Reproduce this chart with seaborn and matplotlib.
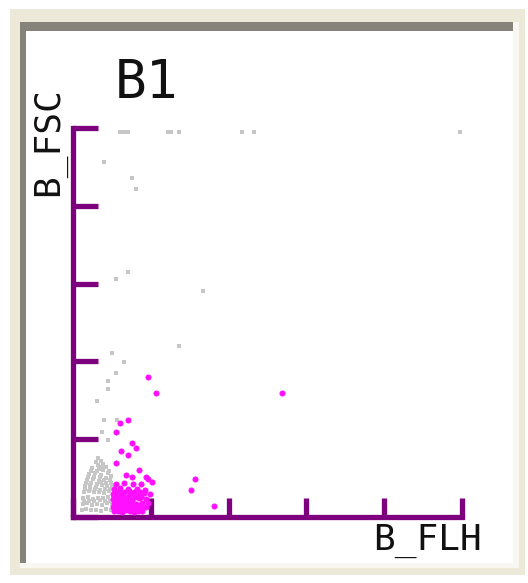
import matplotlib
matplotlib.use("Agg")
import matplotlib.pyplot as plt
from matplotlib.patches import Rectangle
import seaborn as sns
import pandas as pd

# B_FLH / B_FSC values (0-1000 channel scale)
gray_x = [121, 131, 142, 244, 252, 273, 434, 465, 995,
          80, 152, 162, 141, 111, 334, 273, 100, 131, 111, 90, 90, 62,
          80, 113, 75, 90, 64, 75,
          59, 72, 49, 67, 85, 41, 57, 72, 90, 36, 51, 67, 80, 95,
          31, 44, 59, 75, 87, 100, 28, 41, 54, 67, 80, 93, 105,
          26, 39, 51, 64, 77, 90, 103, 26, 36, 49, 62, 75, 87, 100,
          23, 33, 46, 59, 72, 85, 98, 108,
          65, 78, 46, 62, 77, 92, 38, 53, 70, 85, 98, 34, 47, 61, 73, 86, 97,
          31, 44, 57, 70, 83, 96, 108, 29, 42, 55, 69, 82, 95, 106]
gray_y = [990, 990, 990, 990, 990, 990, 990, 990, 990,
          913, 872, 843, 630, 612, 581, 440, 422, 398, 370, 350, 329, 298,
          249, 249, 219, 198, 152, 129,
          141, 143, 126, 124, 128, 111, 113, 109, 112, 95, 97, 93, 96, 94,
          80, 82, 78, 81, 79, 82, 64, 66, 63, 65, 62, 66, 64,
          49, 51, 47, 50, 48, 51, 49, 33, 35, 32, 34, 31, 35, 33,
          18, 20, 17, 19, 16, 20, 18, 19,
          134, 135, 119, 118, 120, 117, 103, 104, 102, 101, 105, 87, 88, 86, 89, 87, 88,
          72, 71, 73, 70, 72, 71, 74, 41, 42, 40, 43, 41, 40, 42]

pink_x = [193, 213, 537, 141, 121, 111, 152, 162, 123, 141, 111, 170,
          314, 303, 362, 193, 203, 136, 188, 152,
          111, 131, 154, 175, 105, 121, 141, 165, 185,
          103, 116, 129, 147, 167, 183, 198,
          103, 113, 123, 136, 152, 170, 188,
          105, 116, 126, 139, 149, 162, 177, 193,
          103, 113, 123, 134, 144, 154, 165, 175, 188,
          105, 116, 126, 136, 147, 157, 167, 177,
          108, 119, 130, 143, 157, 172, 109, 120, 132, 145, 160, 175,
          108, 118, 128, 139, 150, 161, 171, 110, 121, 131, 142, 152, 163]
pink_y = [360, 319, 319, 249, 242, 219, 190, 177, 170, 159, 139, 121,
          98, 69, 28, 98, 90, 108, 103, 103,
          85, 87, 84, 86, 72, 74, 71, 73, 70,
          59, 61, 58, 60, 57, 61, 59,
          46, 48, 45, 47, 44, 48, 46,
          36, 37, 35, 38, 36, 34, 37, 35,
          26, 27, 25, 28, 26, 24, 27, 25, 26,
          15, 16, 14, 17, 15, 13, 16, 15,
          65, 66, 64, 67, 65, 64, 52, 53, 51, 54, 52, 51,
          31, 30, 32, 31, 30, 32, 31, 21, 20, 22, 21, 20, 21]

ticks = [0, 200, 400, 600, 800, 1000]

W, H = 528, 583
purple = "#7d007f"

fig = plt.figure(figsize=(W / 100, H / 100), dpi=100, facecolor="white")


def box(x0, y0, x1, y1, color):
    # pixel box (from top-left) -> figure fraction
    fig.patches.append(Rectangle((x0 / W, 1 - y1 / H), (x1 - x0) / W, (y1 - y0) / H,
                                 transform=fig.transFigure, facecolor=color,
                                 edgecolor="none", zorder=-10))


box(10, 9, 525, 575, "#ece9d8")
box(20, 22, 519, 568, "#f8f7f2")
box(20, 22, 513, 563, "#85837a")
box(26, 31, 513, 563, "white")

ax = fig.add_axes([73 / W, 66 / H, 389 / W, 389 / H])
ax.set_zorder(5)
ax.patch.set_alpha(0)

gray = pd.DataFrame({"B_FLH": gray_x, "B_FSC": gray_y})
pink = pd.DataFrame({"B_FLH": pink_x, "B_FSC": pink_y})
sns.scatterplot(data=gray, x="B_FLH", y="B_FSC", ax=ax, color="#c6c6c6",
                marker="s", s=9, linewidth=0, zorder=2)
sns.scatterplot(data=pink, x="B_FLH", y="B_FSC", ax=ax, color="#ff10ff",
                marker="o", s=19, linewidth=0, zorder=3)

ax.set_xlim(0, 1000)
ax.set_ylim(0, 1000)
ax.set_xticks(ticks)
ax.set_yticks(ticks)
ax.set_xlabel("")
ax.set_ylabel("")
for side in ["top", "right"]:
    ax.spines[side].set_visible(False)
for side in ["left", "bottom"]:
    ax.spines[side].set_color(purple)
    ax.spines[side].set_linewidth(3.8)
    ax.spines[side].set_capstyle("projecting")
ax.tick_params(axis="x", direction="in", length=14, width=3.8, color=purple,
               labelbottom=False)
ax.tick_params(axis="y", direction="in", length=18, width=3.8, color=purple,
               labelleft=False)

mono = "DejaVu Sans Mono"
fig.text(115 / W, 1 - 98 / H, "B1", family=mono, fontsize=38, color="#111111",
         ha="left", va="baseline")
fig.text(482 / W, 1 - 550 / H, "B_FLH", family=mono, fontsize=26, color="#111111",
         ha="right", va="baseline")
fig.text(49 / W, 1 - 196 / H, "B_FSC", family=mono, fontsize=26, color="#111111",
         ha="center", va="bottom", rotation=90)

fig.savefig("out.png", dpi=100, facecolor="white")
